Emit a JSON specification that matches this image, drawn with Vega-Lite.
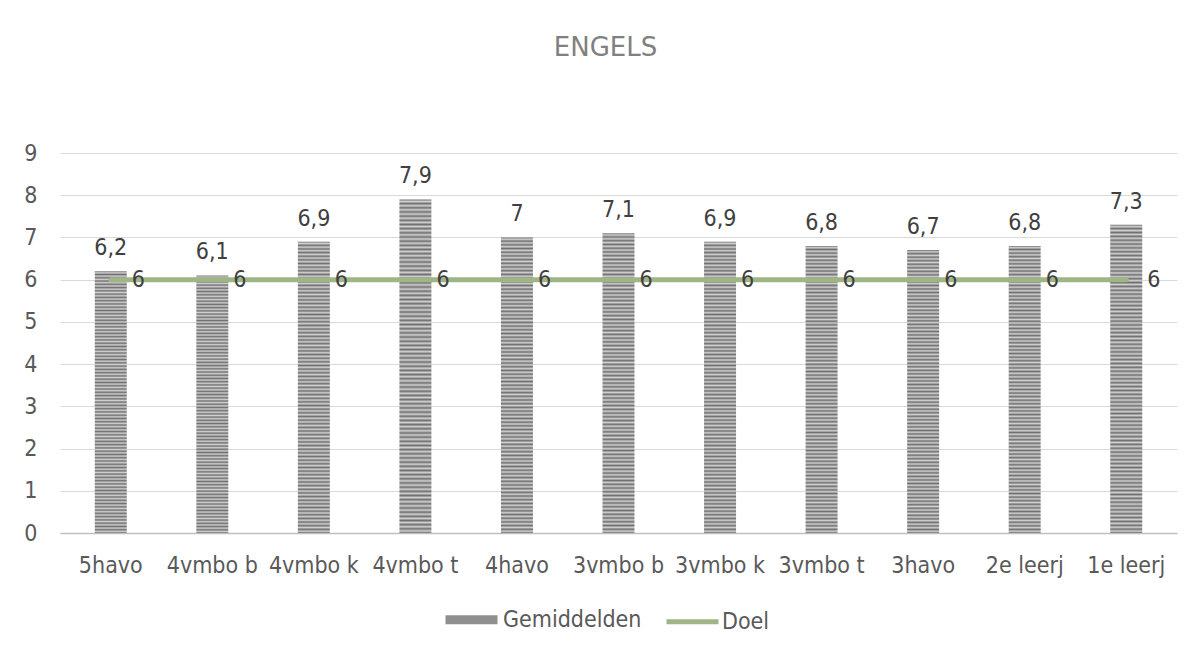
{
  "$schema": "https://vega.github.io/schema/vega-lite/v6.json",
  "autosize": {"type": "none"},
  "width": 1117,
  "height": 380,
  "padding": {"left": 60, "top": 153, "right": 15, "bottom": 117},
  "background": "white",
  "title": {"text": "ENGELS", "fontSize": 26, "font": "DejaVu Sans", "fontWeight": "normal", "color": "#808080", "anchor": "middle", "dx": -13, "offset": 81},
  "data": {"values": [
    {"klas": "5havo", "gem": 6.2, "doel": 6},
    {"klas": "4vmbo b", "gem": 6.1, "doel": 6},
    {"klas": "4vmbo k", "gem": 6.9, "doel": 6},
    {"klas": "4vmbo t", "gem": 7.9, "doel": 6},
    {"klas": "4havo", "gem": 7, "doel": 6},
    {"klas": "3vmbo b", "gem": 7.1, "doel": 6},
    {"klas": "3vmbo k", "gem": 6.9, "doel": 6},
    {"klas": "3vmbo t", "gem": 6.8, "doel": 6},
    {"klas": "3havo", "gem": 6.7, "doel": 6},
    {"klas": "2e leerj", "gem": 6.8, "doel": 6},
    {"klas": "1e leerj", "gem": 7.3, "doel": 6}
  ]},
  "encoding": {
    "x": {"field": "klas", "type": "nominal", "sort": null, "title": null,
      "scale": {"paddingInner": 0.685, "paddingOuter": 0.3425},
      "axis": {"labelAngle": 0, "labelFontSize": 23, "labelFont": "DejaVu Sans Condensed", "labelColor": "#595959", "ticks": false, "domainColor": "#bfbfbf", "domainWidth": 1.5, "labelPadding": 21, "grid": false}}
  },
  "layer": [
    {
      "mark": {"type": "bar", "strokeWidth": 0, "fill": {"gradient": "linear", "x1": 0, "y1": 0, "x2": 0, "y2": 1, "stops": [
        {"offset":0,"color":"#707070"},{"offset":0.00625,"color":"#d0d0d0"},{"offset":0.0125,"color":"#707070"},{"offset":0.01875,"color":"#d0d0d0"},{"offset":0.025,"color":"#707070"},{"offset":0.03125,"color":"#d0d0d0"},{"offset":0.0375,"color":"#707070"},{"offset":0.04375,"color":"#d0d0d0"},
        {"offset":0.05,"color":"#707070"},{"offset":0.05625,"color":"#d0d0d0"},{"offset":0.0625,"color":"#707070"},{"offset":0.06875,"color":"#d0d0d0"},{"offset":0.075,"color":"#707070"},{"offset":0.08125,"color":"#d0d0d0"},{"offset":0.0875,"color":"#707070"},{"offset":0.09375,"color":"#d0d0d0"},
        {"offset":0.1,"color":"#707070"},{"offset":0.10625,"color":"#d0d0d0"},{"offset":0.1125,"color":"#707070"},{"offset":0.11875,"color":"#d0d0d0"},{"offset":0.125,"color":"#707070"},{"offset":0.13125,"color":"#d0d0d0"},{"offset":0.1375,"color":"#707070"},{"offset":0.14375,"color":"#d0d0d0"},
        {"offset":0.15,"color":"#707070"},{"offset":0.15625,"color":"#d0d0d0"},{"offset":0.1625,"color":"#707070"},{"offset":0.16875,"color":"#d0d0d0"},{"offset":0.175,"color":"#707070"},{"offset":0.18125,"color":"#d0d0d0"},{"offset":0.1875,"color":"#707070"},{"offset":0.19375,"color":"#d0d0d0"},
        {"offset":0.2,"color":"#707070"},{"offset":0.20625,"color":"#d0d0d0"},{"offset":0.2125,"color":"#707070"},{"offset":0.21875,"color":"#d0d0d0"},{"offset":0.225,"color":"#707070"},{"offset":0.23125,"color":"#d0d0d0"},{"offset":0.2375,"color":"#707070"},{"offset":0.24375,"color":"#d0d0d0"},
        {"offset":0.25,"color":"#707070"},{"offset":0.25625,"color":"#d0d0d0"},{"offset":0.2625,"color":"#707070"},{"offset":0.26875,"color":"#d0d0d0"},{"offset":0.275,"color":"#707070"},{"offset":0.28125,"color":"#d0d0d0"},{"offset":0.2875,"color":"#707070"},{"offset":0.29375,"color":"#d0d0d0"},
        {"offset":0.3,"color":"#707070"},{"offset":0.30625,"color":"#d0d0d0"},{"offset":0.3125,"color":"#707070"},{"offset":0.31875,"color":"#d0d0d0"},{"offset":0.325,"color":"#707070"},{"offset":0.33125,"color":"#d0d0d0"},{"offset":0.3375,"color":"#707070"},{"offset":0.34375,"color":"#d0d0d0"},
        {"offset":0.35,"color":"#707070"},{"offset":0.35625,"color":"#d0d0d0"},{"offset":0.3625,"color":"#707070"},{"offset":0.36875,"color":"#d0d0d0"},{"offset":0.375,"color":"#707070"},{"offset":0.38125,"color":"#d0d0d0"},{"offset":0.3875,"color":"#707070"},{"offset":0.39375,"color":"#d0d0d0"},
        {"offset":0.4,"color":"#707070"},{"offset":0.40625,"color":"#d0d0d0"},{"offset":0.4125,"color":"#707070"},{"offset":0.41875,"color":"#d0d0d0"},{"offset":0.425,"color":"#707070"},{"offset":0.43125,"color":"#d0d0d0"},{"offset":0.4375,"color":"#707070"},{"offset":0.44375,"color":"#d0d0d0"},
        {"offset":0.45,"color":"#707070"},{"offset":0.45625,"color":"#d0d0d0"},{"offset":0.4625,"color":"#707070"},{"offset":0.46875,"color":"#d0d0d0"},{"offset":0.475,"color":"#707070"},{"offset":0.48125,"color":"#d0d0d0"},{"offset":0.4875,"color":"#707070"},{"offset":0.49375,"color":"#d0d0d0"},
        {"offset":0.5,"color":"#707070"},{"offset":0.50625,"color":"#d0d0d0"},{"offset":0.5125,"color":"#707070"},{"offset":0.51875,"color":"#d0d0d0"},{"offset":0.525,"color":"#707070"},{"offset":0.53125,"color":"#d0d0d0"},{"offset":0.5375,"color":"#707070"},{"offset":0.54375,"color":"#d0d0d0"},
        {"offset":0.55,"color":"#707070"},{"offset":0.55625,"color":"#d0d0d0"},{"offset":0.5625,"color":"#707070"},{"offset":0.56875,"color":"#d0d0d0"},{"offset":0.575,"color":"#707070"},{"offset":0.58125,"color":"#d0d0d0"},{"offset":0.5875,"color":"#707070"},{"offset":0.59375,"color":"#d0d0d0"},
        {"offset":0.6,"color":"#707070"},{"offset":0.60625,"color":"#d0d0d0"},{"offset":0.6125,"color":"#707070"},{"offset":0.61875,"color":"#d0d0d0"},{"offset":0.625,"color":"#707070"},{"offset":0.63125,"color":"#d0d0d0"},{"offset":0.6375,"color":"#707070"},{"offset":0.64375,"color":"#d0d0d0"},
        {"offset":0.65,"color":"#707070"},{"offset":0.65625,"color":"#d0d0d0"},{"offset":0.6625,"color":"#707070"},{"offset":0.66875,"color":"#d0d0d0"},{"offset":0.675,"color":"#707070"},{"offset":0.68125,"color":"#d0d0d0"},{"offset":0.6875,"color":"#707070"},{"offset":0.69375,"color":"#d0d0d0"},
        {"offset":0.7,"color":"#707070"},{"offset":0.70625,"color":"#d0d0d0"},{"offset":0.7125,"color":"#707070"},{"offset":0.71875,"color":"#d0d0d0"},{"offset":0.725,"color":"#707070"},{"offset":0.73125,"color":"#d0d0d0"},{"offset":0.7375,"color":"#707070"},{"offset":0.74375,"color":"#d0d0d0"},
        {"offset":0.75,"color":"#707070"},{"offset":0.75625,"color":"#d0d0d0"},{"offset":0.7625,"color":"#707070"},{"offset":0.76875,"color":"#d0d0d0"},{"offset":0.775,"color":"#707070"},{"offset":0.78125,"color":"#d0d0d0"},{"offset":0.7875,"color":"#707070"},{"offset":0.79375,"color":"#d0d0d0"},
        {"offset":0.8,"color":"#707070"},{"offset":0.80625,"color":"#d0d0d0"},{"offset":0.8125,"color":"#707070"},{"offset":0.81875,"color":"#d0d0d0"},{"offset":0.825,"color":"#707070"},{"offset":0.83125,"color":"#d0d0d0"},{"offset":0.8375,"color":"#707070"},{"offset":0.84375,"color":"#d0d0d0"},
        {"offset":0.85,"color":"#707070"},{"offset":0.85625,"color":"#d0d0d0"},{"offset":0.8625,"color":"#707070"},{"offset":0.86875,"color":"#d0d0d0"},{"offset":0.875,"color":"#707070"},{"offset":0.88125,"color":"#d0d0d0"},{"offset":0.8875,"color":"#707070"},{"offset":0.89375,"color":"#d0d0d0"},
        {"offset":0.9,"color":"#707070"},{"offset":0.90625,"color":"#d0d0d0"},{"offset":0.9125,"color":"#707070"},{"offset":0.91875,"color":"#d0d0d0"},{"offset":0.925,"color":"#707070"},{"offset":0.93125,"color":"#d0d0d0"},{"offset":0.9375,"color":"#707070"},{"offset":0.94375,"color":"#d0d0d0"},
        {"offset":0.95,"color":"#707070"},{"offset":0.95625,"color":"#d0d0d0"},{"offset":0.9625,"color":"#707070"},{"offset":0.96875,"color":"#d0d0d0"},{"offset":0.975,"color":"#707070"},{"offset":0.98125,"color":"#d0d0d0"},{"offset":0.9875,"color":"#707070"},{"offset":0.99375,"color":"#d0d0d0"},
        {"offset":1,"color":"#707070"}
      ]}},
      "encoding": {
        "y": {"field": "gem", "type": "quantitative", "title": null,
          "scale": {"domain": [0, 9], "nice": false},
          "axis": {"values": [0,1,2,3,4,5,6,7,8,9], "domain": false, "ticks": false, "gridColor": "#d9d9d9", "gridWidth": 1, "labelFontSize": 23, "labelFont": "DejaVu Sans Condensed", "labelColor": "#595959", "labelPadding": 23}}
      }
    },
    {
      "mark": {"type": "line", "strokeCap": "round"},
      "encoding": {
        "y": {"field": "doel", "type": "quantitative"},
        "stroke": {"datum": "Doel", "type": "nominal",
          "scale": {"domain": ["Gemiddelden", "Doel"], "range": ["#8f8f8f", "#9fb585"]},
          "legend": {"orient": "none", "legendX": 381, "legendY": 436, "direction": "horizontal", "title": null, "padding": 0,
            "labelFontSize": 23, "labelFont": "DejaVu Sans Condensed", "labelColor": "#595959", "labelOffset": 1, "columnPadding": 14,
            "symbolSize": 2704, "symbolType": "stroke"}},
        "strokeWidth": {"datum": "Doel", "type": "ordinal",
          "scale": {"domain": ["Gemiddelden", "Doel"], "range": [9, 5]},
          "legend": {"orient": "none", "legendX": 381, "legendY": 436, "direction": "horizontal", "title": null, "padding": 0,
            "labelFontSize": 23, "labelFont": "DejaVu Sans Condensed", "labelColor": "#595959", "labelOffset": 1, "columnPadding": 14,
            "symbolSize": 2704, "symbolType": "stroke"}}
      }
    },
    {
      "mark": {"type": "text", "baseline": "alphabetic", "dy": -16, "fontSize": 23, "font": "DejaVu Sans Condensed", "color": "#404040"},
      "encoding": {
        "y": {"field": "gem", "type": "quantitative"},
        "text": {"field": "gem", "type": "quantitative", "format": "~g"}
      }
    },
    {
      "mark": {"type": "text", "align": "left", "baseline": "middle", "dx": 21, "fontSize": 23, "font": "DejaVu Sans Condensed", "color": "#404040"},
      "encoding": {
        "y": {"field": "doel", "type": "quantitative"},
        "text": {"field": "doel", "type": "quantitative", "format": "~g"}
      }
    }
  ],
  "config": {
    "view": {"stroke": null},
    "locale": {"number": {"decimal": ",", "thousands": ".", "grouping": [3], "currency": ["€", ""]}}
  }
}
